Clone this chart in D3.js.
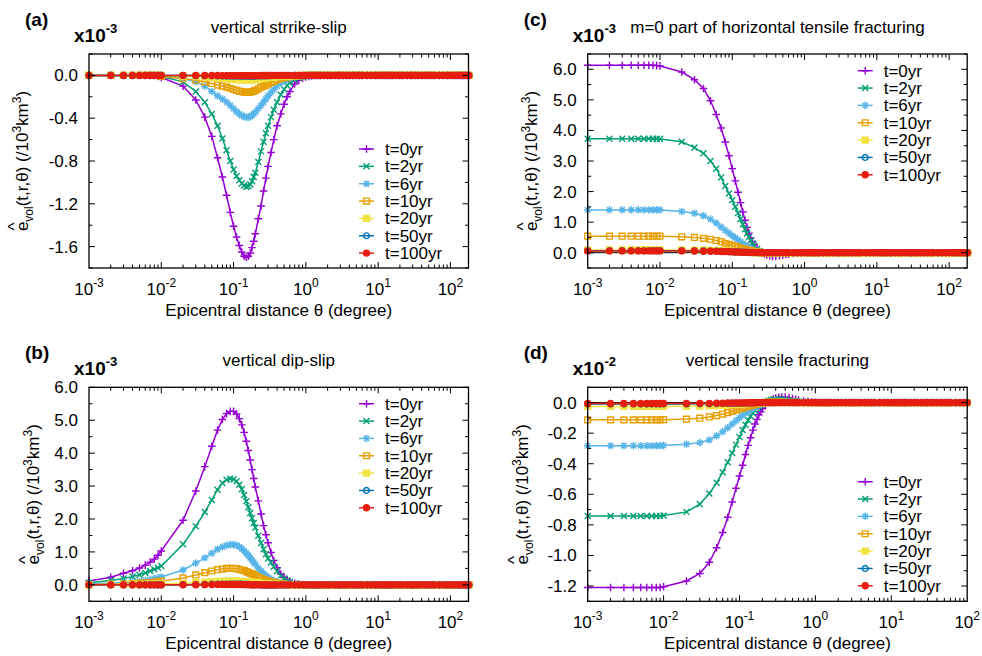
<!DOCTYPE html>
<html>
<head>
<meta charset="utf-8">
<script src="https://cdn.jsdelivr.net/npm/d3@7"></script>
<style>
  html, body { margin: 0; padding: 0; background: #fff; }
  svg { display: block; font-family: "Liberation Sans", Arial, sans-serif; }
</style>
</head>
<body>
<svg id="chart" width="982" height="656"></svg>
<script>
// epicentral distances (degree) at which every curve is sampled
const theta = [
  0.001, 0.002, 0.003, 0.004, 0.005, 0.006, 0.007, 0.008, 0.009,
  0.01, 0.02, 0.03, 0.04, 0.05, 0.06, 0.07, 0.08, 0.09,
  0.10, 0.11, 0.12, 0.13, 0.14, 0.15, 0.16, 0.17, 0.18, 0.19, 0.20,
  0.22, 0.24, 0.26, 0.28, 0.30, 0.33, 0.36, 0.40, 0.45, 0.50, 0.55, 0.60, 0.70, 0.80, 0.90,
  1.0, 1.1, 1.2, 1.3, 1.4, 1.5, 1.6, 1.8, 2.0, 2.2, 2.5, 2.8, 3.0, 3.3, 3.6, 4.0, 4.5, 5, 5.5, 6, 7, 8, 9,
  10, 11, 12, 13, 14, 15, 16, 18, 20, 22, 25, 28, 30, 33, 36, 40, 45, 50, 55, 60, 70, 80, 90, 100,
  110, 120, 130, 140, 150, 160, 170, 180
];

const seriesNames = ["t=0yr", "t=2yr", "t=6yr", "t=10yr", "t=20yr", "t=50yr", "t=100yr"];
const seriesColors = ["#9400d3", "#009e73", "#56b4e9", "#e69f00", "#f0e442", "#0072b2", "#e51e10"];
const seriesMarks = ["plus", "cross", "star", "square", "squareFill", "circle", "circleFill"];

// (a) vertical strike-slip, x10^-3
const ss0 = [
  0, 0, 0, 0, 0, 0, 0, 0, -0.01,
  -0.02, -0.10, -0.23, -0.39, -0.57, -0.77, -0.95, -1.12, -1.28,
  -1.41, -1.51, -1.59, -1.65, -1.69, -1.70, -1.69, -1.66, -1.61, -1.55, -1.48,
  -1.34, -1.22, -1.08, -0.96, -0.85, -0.72, -0.60, -0.47, -0.36, -0.27, -0.20, -0.15, -0.08, -0.045, -0.025,
  -0.015, -0.01, -0.005, 0, 0, 0, 0, 0, 0, 0, 0, 0, 0, 0, 0, 0, 0, 0, 0, 0, 0, 0, 0,
  0, 0, 0, 0, 0, 0, 0, 0, 0, 0, 0, 0, 0, 0, 0, 0, 0, 0, 0, 0, 0, 0, 0, 0, 0, 0, 0, 0, 0, 0, 0, 0
];
const ss2 = [
  0, 0, 0, 0, 0, 0, 0, 0, 0,
  -0.01, -0.06, -0.15, -0.25, -0.36, -0.47, -0.59, -0.70, -0.80,
  -0.88, -0.94, -0.98, -1.01, -1.03, -1.04, -1.035, -1.02, -0.99, -0.95, -0.91,
  -0.81, -0.71, -0.62, -0.54, -0.47, -0.39, -0.32, -0.25, -0.18, -0.13, -0.095, -0.07, -0.04, -0.022, -0.013,
  -0.008, -0.005, -0.003, 0, 0, 0, 0, 0, 0, 0, 0, 0, 0, 0, 0, 0, 0, 0, 0, 0, 0, 0, 0,
  0, 0, 0, 0, 0, 0, 0, 0, 0, 0, 0, 0, 0, 0, 0, 0, 0, 0, 0, 0, 0, 0, 0, 0, 0, 0, 0, 0, 0, 0, 0, 0
];
const ss6 = [
  0, 0, 0, 0, 0, 0, 0, 0, 0,
  0, -0.03, -0.06, -0.10, -0.15, -0.19, -0.22, -0.25, -0.28,
  -0.31, -0.34, -0.36, -0.375, -0.385, -0.39, -0.39, -0.385, -0.375, -0.36, -0.345,
  -0.31, -0.28, -0.25, -0.22, -0.19, -0.16, -0.13, -0.10, -0.07, -0.05, -0.035, -0.025, -0.012, -0.006, -0.003,
  -0.001, 0, 0, 0, 0, 0, 0, 0, 0, 0, 0, 0, 0, 0, 0, 0, 0, 0, 0, 0, 0, 0, 0,
  0, 0, 0, 0, 0, 0, 0, 0, 0, 0, 0, 0, 0, 0, 0, 0, 0, 0, 0, 0, 0, 0, 0, 0, 0, 0, 0, 0, 0, 0, 0, 0
];
const ss10 = [
  0, 0, 0, 0, 0, 0, 0, 0, 0,
  -0.01, -0.03, -0.045, -0.06, -0.075, -0.09, -0.10, -0.11, -0.12,
  -0.13, -0.14, -0.147, -0.152, -0.156, -0.158, -0.158, -0.156, -0.152, -0.147, -0.14,
  -0.125, -0.11, -0.10, -0.09, -0.08, -0.065, -0.055, -0.042, -0.03, -0.022, -0.016, -0.011, -0.006, -0.003, -0.002,
  -0.001, 0, 0, 0, 0, 0, 0, 0, 0, 0, 0, 0, 0, 0, 0, 0, 0, 0, 0, 0, 0, 0, 0,
  0, 0, 0, 0, 0, 0, 0, 0, 0, 0, 0, 0, 0, 0, 0, 0, 0, 0, 0, 0, 0, 0, 0, 0, 0, 0, 0, 0, 0, 0, 0, 0
];
const ss20 = [
  0, 0, 0, 0, 0, 0, 0, 0, 0,
  0, -0.005, -0.01, -0.015, -0.02, -0.024, -0.028, -0.031, -0.034,
  -0.036, -0.038, -0.04, -0.041, -0.042, -0.042, -0.042, -0.041, -0.04, -0.039, -0.038,
  -0.034, -0.03, -0.027, -0.024, -0.021, -0.018, -0.015, -0.011, -0.008, -0.006, -0.004, -0.003, -0.002, -0.001, 0,
  0, 0, 0, 0, 0, 0, 0, 0, 0, 0, 0, 0, 0, 0, 0, 0, 0, 0, 0, 0, 0, 0, 0,
  0, 0, 0, 0, 0, 0, 0, 0, 0, 0, 0, 0, 0, 0, 0, 0, 0, 0, 0, 0, 0, 0, 0, 0, 0, 0, 0, 0, 0, 0, 0, 0
];
const ss50 = [
  0, 0, 0, 0, 0, 0, 0, 0, 0,
  0, -0.001, -0.002, -0.003, -0.004, -0.005, -0.006, -0.007, -0.007,
  -0.008, -0.008, -0.008, -0.008, -0.008, -0.008, -0.008, -0.008, -0.007, -0.007, -0.007,
  -0.006, -0.005, -0.005, -0.004, -0.004, -0.003, -0.003, -0.002, -0.002, -0.001, -0.001, -0.001, 0, 0, 0,
  0, 0, 0, 0, 0, 0, 0, 0, 0, 0, 0, 0, 0, 0, 0, 0, 0, 0, 0, 0, 0, 0, 0,
  0, 0, 0, 0, 0, 0, 0, 0, 0, 0, 0, 0, 0, 0, 0, 0, 0, 0, 0, 0, 0, 0, 0, 0, 0, 0, 0, 0, 0, 0, 0, 0
];
const ss100 = [
  0, 0, 0, 0, 0, 0, 0, 0, 0,
  0, 0, 0, -0.001, -0.001, -0.001, -0.002, -0.002, -0.002,
  -0.002, -0.002, -0.002, -0.002, -0.002, -0.002, -0.002, -0.002, -0.002, -0.002, -0.002,
  -0.002, -0.001, -0.001, -0.001, -0.001, -0.001, 0, 0, 0, 0, 0, 0, 0, 0, 0,
  0, 0, 0, 0, 0, 0, 0, 0, 0, 0, 0, 0, 0, 0, 0, 0, 0, 0, 0, 0, 0, 0, 0,
  0, 0, 0, 0, 0, 0, 0, 0, 0, 0, 0, 0, 0, 0, 0, 0, 0, 0, 0, 0, 0, 0, 0, 0, 0, 0, 0, 0, 0, 0, 0, 0
];

// (b) vertical dip-slip, x10^-3
const ds0 = [
  0.12, 0.23, 0.35, 0.43, 0.51, 0.60, 0.69, 0.78, 0.90,
  1.03, 1.96, 2.85, 3.59, 4.21, 4.70, 5.02, 5.20, 5.27,
  5.27, 5.19, 5.05, 4.86, 4.63, 4.36, 4.08, 3.79, 3.50, 3.23, 2.97,
  2.55, 2.15, 1.80, 1.52, 1.28, 0.98, 0.74, 0.52, 0.33, 0.22, 0.15, 0.10, 0.045, 0.02, 0.01,
  0.005, 0.003, 0.001, 0, 0, 0, 0, 0, 0, 0, 0, 0, 0, 0, 0, 0, 0, 0, 0, 0, 0, 0, 0,
  0, 0, 0, 0, 0, 0, 0, 0, 0, 0, 0, 0, 0, 0, 0, 0, 0, 0, 0, 0, 0, 0, 0, 0, 0, 0, 0, 0, 0, 0, 0, 0
];
const ds2 = [
  0.06, 0.13, 0.19, 0.25, 0.31, 0.36, 0.42, 0.47, 0.52,
  0.57, 1.23, 1.78, 2.21, 2.58, 2.89, 3.09, 3.19, 3.22,
  3.21, 3.15, 3.04, 2.90, 2.73, 2.54, 2.36, 2.18, 2.02, 1.88, 1.74,
  1.49, 1.27, 1.08, 0.93, 0.80, 0.68, 0.55, 0.41, 0.28, 0.19, 0.13, 0.09, 0.04, 0.02, 0.01,
  0.005, 0.003, 0.001, 0, 0, 0, 0, 0, 0, 0, 0, 0, 0, 0, 0, 0, 0, 0, 0, 0, 0, 0, 0,
  0, 0, 0, 0, 0, 0, 0, 0, 0, 0, 0, 0, 0, 0, 0, 0, 0, 0, 0, 0, 0, 0, 0, 0, 0, 0, 0, 0, 0, 0, 0, 0
];
const ds6 = [
  0.03, 0.05, 0.07, 0.09, 0.11, 0.13, 0.16, 0.19, 0.21,
  0.24, 0.45, 0.66, 0.82, 0.96, 1.08, 1.15, 1.20, 1.22,
  1.22, 1.20, 1.16, 1.10, 1.03, 0.96, 0.89, 0.82, 0.75, 0.68, 0.62,
  0.51, 0.42, 0.34, 0.28, 0.23, 0.17, 0.12, 0.08, 0.05, 0.03, 0.02, 0.013, 0.006, 0.003, 0.001,
  0, 0, 0, 0, 0, 0, 0, 0, 0, 0, 0, 0, 0, 0, 0, 0, 0, 0, 0, 0, 0, 0, 0,
  0, 0, 0, 0, 0, 0, 0, 0, 0, 0, 0, 0, 0, 0, 0, 0, 0, 0, 0, 0, 0, 0, 0, 0, 0, 0, 0, 0, 0, 0, 0, 0
];
const ds10 = [
  0.01, 0.02, 0.03, 0.04, 0.05, 0.06, 0.07, 0.08, 0.09,
  0.11, 0.21, 0.30, 0.37, 0.42, 0.46, 0.48, 0.50, 0.50,
  0.50, 0.49, 0.47, 0.45, 0.43, 0.40, 0.38, 0.35, 0.33, 0.30, 0.28,
  0.24, 0.20, 0.17, 0.14, 0.12, 0.09, 0.07, 0.05, 0.03, 0.02, 0.013, 0.008, 0.004, 0.002, 0.001,
  0, 0, 0, 0, 0, 0, 0, 0, 0, 0, 0, 0, 0, 0, 0, 0, 0, 0, 0, 0, 0, 0, 0,
  0, 0, 0, 0, 0, 0, 0, 0, 0, 0, 0, 0, 0, 0, 0, 0, 0, 0, 0, 0, 0, 0, 0, 0, 0, 0, 0, 0, 0, 0, 0, 0
];
const ds20 = [
  0, 0.005, 0.008, 0.01, 0.012, 0.014, 0.016, 0.018, 0.02,
  0.022, 0.045, 0.065, 0.08, 0.09, 0.10, 0.105, 0.11, 0.11,
  0.11, 0.108, 0.104, 0.10, 0.095, 0.09, 0.085, 0.08, 0.075, 0.07, 0.065,
  0.055, 0.045, 0.038, 0.032, 0.026, 0.02, 0.015, 0.01, 0.007, 0.005, 0.003, 0.002, 0.001, 0, 0,
  0, 0, 0, 0, 0, 0, 0, 0, 0, 0, 0, 0, 0, 0, 0, 0, 0, 0, 0, 0, 0, 0, 0,
  0, 0, 0, 0, 0, 0, 0, 0, 0, 0, 0, 0, 0, 0, 0, 0, 0, 0, 0, 0, 0, 0, 0, 0, 0, 0, 0, 0, 0, 0, 0, 0
];
const ds50 = [
  0, 0, 0, 0, 0, 0, 0, 0, 0,
  0, 0.005, 0.01, 0.015, 0.02, 0.022, 0.024, 0.025, 0.025,
  0.025, 0.024, 0.022, 0.02, 0.018, 0.015, 0.012, 0.009, 0.006, 0.004, 0.002,
  -0.002, -0.005, -0.007, -0.008, -0.009, -0.009, -0.009, -0.008, -0.007, -0.006, -0.005, -0.004, -0.002, -0.001, 0,
  0, 0, 0, 0, 0, 0, 0, 0, 0, 0, 0, 0, 0, 0, 0, 0, 0, 0, 0, 0, 0, 0, 0,
  0, 0, 0, 0, 0, 0, 0, 0, 0, 0, 0, 0, 0, 0, 0, 0, 0, 0, 0, 0, 0, 0, 0, 0, 0, 0, 0, 0, 0, 0, 0, 0
];
const ds100 = [
  0, 0, 0, 0, 0, 0, 0, 0, 0,
  0, 0.002, 0.004, 0.006, 0.007, 0.008, 0.009, 0.01, 0.01,
  0.01, 0.01, 0.009, 0.008, 0.007, 0.006, 0.005, 0.004, 0.003, 0.002, 0.001,
  0, -0.001, -0.002, -0.002, -0.002, -0.002, -0.002, -0.002, -0.001, -0.001, -0.001, 0, 0, 0, 0,
  0, 0, 0, 0, 0, 0, 0, 0, 0, 0, 0, 0, 0, 0, 0, 0, 0, 0, 0, 0, 0, 0, 0,
  0, 0, 0, 0, 0, 0, 0, 0, 0, 0, 0, 0, 0, 0, 0, 0, 0, 0, 0, 0, 0, 0, 0, 0, 0, 0, 0, 0, 0, 0, 0, 0
];

// (c) m=0 part of horizontal tensile fracturing, x10^-3
const ht0 = [
  6.13, 6.13, 6.13, 6.13, 6.13, 6.13, 6.13, 6.13, 6.12,
  6.11, 5.91, 5.66, 5.37, 4.97, 4.52, 4.08, 3.62, 3.17,
  2.75, 2.35, 1.98, 1.64, 1.33, 1.06, 0.83, 0.64, 0.48, 0.36, 0.26,
  0.12, 0.04, -0.01, -0.04, -0.07, -0.10, -0.12, -0.12, -0.10, -0.08, -0.06, -0.045, -0.025, -0.013, -0.007,
  -0.003, -0.002, -0.001, 0, 0, 0, 0, 0, 0, 0, 0, 0, 0, 0, 0, 0, 0, 0, 0, 0, 0, 0, 0,
  0, 0, 0, 0, 0, 0, 0, 0, 0, 0, 0, 0, 0, 0, 0, 0, 0, 0, 0, 0, 0, 0, 0, 0, 0, 0, 0, 0, 0, 0, 0, 0
];
const ht2 = [
  3.73, 3.73, 3.73, 3.73, 3.73, 3.73, 3.73, 3.73, 3.73,
  3.72, 3.63, 3.44, 3.25, 3.00, 2.75, 2.46, 2.18, 1.94,
  1.72, 1.50, 1.30, 1.10, 0.93, 0.77, 0.63, 0.51, 0.40, 0.31, 0.23,
  0.12, 0.05, 0.01, -0.01, -0.02, -0.03, -0.03, -0.03, -0.02, -0.02, -0.01, -0.01, -0.005, 0, 0,
  0, 0, 0, 0, 0, 0, 0, 0, 0, 0, 0, 0, 0, 0, 0, 0, 0, 0, 0, 0, 0, 0, 0,
  0, 0, 0, 0, 0, 0, 0, 0, 0, 0, 0, 0, 0, 0, 0, 0, 0, 0, 0, 0, 0, 0, 0, 0, 0, 0, 0, 0, 0, 0, 0, 0
];
const ht6 = [
  1.40, 1.40, 1.40, 1.40, 1.40, 1.40, 1.40, 1.40, 1.40,
  1.40, 1.35, 1.29, 1.21, 1.10, 0.97, 0.84, 0.73, 0.64,
  0.56, 0.49, 0.42, 0.36, 0.30, 0.25, 0.20, 0.16, 0.13, 0.10, 0.08,
  0.04, 0.02, 0, -0.01, -0.01, -0.01, -0.01, -0.01, -0.01, -0.005, 0, 0, 0, 0, 0,
  0, 0, 0, 0, 0, 0, 0, 0, 0, 0, 0, 0, 0, 0, 0, 0, 0, 0, 0, 0, 0, 0, 0,
  0, 0, 0, 0, 0, 0, 0, 0, 0, 0, 0, 0, 0, 0, 0, 0, 0, 0, 0, 0, 0, 0, 0, 0, 0, 0, 0, 0, 0, 0, 0, 0
];
const ht10 = [
  0.54, 0.54, 0.54, 0.54, 0.54, 0.54, 0.54, 0.54, 0.54,
  0.54, 0.52, 0.50, 0.47, 0.44, 0.40, 0.36, 0.31, 0.27,
  0.24, 0.21, 0.18, 0.15, 0.13, 0.11, 0.09, 0.075, 0.06, 0.05, 0.04,
  0.025, 0.01, 0, 0, 0, 0, 0, 0, 0, 0, 0, 0, 0, 0, 0,
  0, 0, 0, 0, 0, 0, 0, 0, 0, 0, 0, 0, 0, 0, 0, 0, 0, 0, 0, 0, 0, 0, 0,
  0, 0, 0, 0, 0, 0, 0, 0, 0, 0, 0, 0, 0, 0, 0, 0, 0, 0, 0, 0, 0, 0, 0, 0, 0, 0, 0, 0, 0, 0, 0, 0
];
const ht20 = [
  0.09, 0.09, 0.09, 0.09, 0.09, 0.09, 0.09, 0.09, 0.09,
  0.09, 0.09, 0.085, 0.08, 0.075, 0.07, 0.06, 0.055, 0.05,
  0.045, 0.04, 0.035, 0.03, 0.025, 0.02, 0.018, 0.015, 0.012, 0.01, 0.008,
  0.005, 0.002, 0, 0, 0, 0, 0, 0, 0, 0, 0, 0, 0, 0, 0,
  0, 0, 0, 0, 0, 0, 0, 0, 0, 0, 0, 0, 0, 0, 0, 0, 0, 0, 0, 0, 0, 0, 0,
  0, 0, 0, 0, 0, 0, 0, 0, 0, 0, 0, 0, 0, 0, 0, 0, 0, 0, 0, 0, 0, 0, 0, 0, 0, 0, 0, 0, 0, 0, 0, 0
];
const ht50 = [
  0.065, 0.065, 0.065, 0.065, 0.065, 0.065, 0.065, 0.065, 0.065,
  0.065, 0.065, 0.06, 0.06, 0.055, 0.05, 0.045, 0.04, 0.035,
  0.03, 0.027, 0.024, 0.021, 0.018, 0.015, 0.013, 0.011, 0.009, 0.007, 0.005,
  0.003, 0.001, 0, 0, 0, 0, 0, 0, 0, 0, 0, 0, 0, 0, 0,
  0, 0, 0, 0, 0, 0, 0, 0, 0, 0, 0, 0, 0, 0, 0, 0, 0, 0, 0, 0, 0, 0, 0,
  0, 0, 0, 0, 0, 0, 0, 0, 0, 0, 0, 0, 0, 0, 0, 0, 0, 0, 0, 0, 0, 0, 0, 0, 0, 0, 0, 0, 0, 0, 0, 0
];
const ht100 = [
  0.06, 0.06, 0.06, 0.06, 0.06, 0.06, 0.06, 0.06, 0.06,
  0.06, 0.06, 0.055, 0.05, 0.05, 0.045, 0.04, 0.035, 0.03,
  0.027, 0.024, 0.021, 0.018, 0.015, 0.013, 0.011, 0.009, 0.007, 0.006, 0.005,
  0.003, 0.001, 0, 0, 0, 0, 0, 0, 0, 0, 0, 0, 0, 0, 0,
  0, 0, 0, 0, 0, 0, 0, 0, 0, 0, 0, 0, 0, 0, 0, 0, 0, 0, 0, 0, 0, 0, 0,
  0, 0, 0, 0, 0, 0, 0, 0, 0, 0, 0, 0, 0, 0, 0, 0, 0, 0, 0, 0, 0, 0, 0, 0, 0, 0, 0, 0, 0, 0, 0, 0
];

// (d) vertical tensile fracturing, x10^-2
const vt0 = [
  -1.21, -1.21, -1.21, -1.21, -1.21, -1.21, -1.21, -1.21, -1.21,
  -1.205, -1.167, -1.118, -1.045, -0.95, -0.85, -0.75, -0.65, -0.56,
  -0.48, -0.41, -0.34, -0.28, -0.23, -0.18, -0.14, -0.11, -0.08, -0.06, -0.04,
  -0.015, 0.003, 0.015, 0.024, 0.03, 0.035, 0.037, 0.036, 0.032, 0.027, 0.022, 0.017, 0.01, 0.006, 0.003,
  0.002, 0.001, 0.001, 0, 0, 0, 0, 0, 0, 0, 0, 0, 0, 0, 0, 0, 0, 0, 0, 0, 0, 0, 0,
  0, 0, 0, 0, 0, 0, 0, 0, 0, 0, 0, 0, 0, 0, 0, 0, 0, 0, 0, 0, 0, 0, 0, 0, 0, 0, 0, 0, 0, 0, 0, 0
];
const vt2 = [
  -0.742, -0.742, -0.742, -0.742, -0.742, -0.742, -0.742, -0.742, -0.742,
  -0.738, -0.715, -0.665, -0.595, -0.525, -0.455, -0.39, -0.33, -0.275,
  -0.225, -0.18, -0.145, -0.115, -0.09, -0.07, -0.052, -0.038, -0.026, -0.016, -0.008,
  0.004, 0.012, 0.017, 0.02, 0.021, 0.021, 0.02, 0.018, 0.015, 0.012, 0.009, 0.007, 0.004, 0.002, 0.001,
  0, 0, 0, 0, 0, 0, 0, 0, 0, 0, 0, 0, 0, 0, 0, 0, 0, 0, 0, 0, 0, 0, 0,
  0, 0, 0, 0, 0, 0, 0, 0, 0, 0, 0, 0, 0, 0, 0, 0, 0, 0, 0, 0, 0, 0, 0, 0, 0, 0, 0, 0, 0, 0, 0, 0
];
const vt6 = [
  -0.282, -0.282, -0.282, -0.282, -0.282, -0.282, -0.282, -0.282, -0.282,
  -0.28, -0.273, -0.262, -0.245, -0.217, -0.19, -0.165, -0.14, -0.118,
  -0.10, -0.083, -0.068, -0.055, -0.044, -0.035, -0.027, -0.02, -0.014, -0.009, -0.005,
  0.001, 0.005, 0.007, 0.008, 0.008, 0.008, 0.007, 0.006, 0.005, 0.004, 0.003, 0.002, 0.001, 0.001, 0,
  0, 0, 0, 0, 0, 0, 0, 0, 0, 0, 0, 0, 0, 0, 0, 0, 0, 0, 0, 0, 0, 0, 0,
  0, 0, 0, 0, 0, 0, 0, 0, 0, 0, 0, 0, 0, 0, 0, 0, 0, 0, 0, 0, 0, 0, 0, 0, 0, 0, 0, 0, 0, 0, 0, 0
];
const vt10 = [
  -0.113, -0.113, -0.113, -0.113, -0.113, -0.113, -0.113, -0.113, -0.113,
  -0.112, -0.108, -0.102, -0.094, -0.085, -0.075, -0.066, -0.057, -0.049,
  -0.042, -0.036, -0.03, -0.025, -0.02, -0.016, -0.012, -0.009, -0.006, -0.004, -0.002,
  0.001, 0.002, 0.003, 0.003, 0.003, 0.003, 0.003, 0.002, 0.002, 0.001, 0.001, 0, 0, 0, 0,
  0, 0, 0, 0, 0, 0, 0, 0, 0, 0, 0, 0, 0, 0, 0, 0, 0, 0, 0, 0, 0, 0, 0,
  0, 0, 0, 0, 0, 0, 0, 0, 0, 0, 0, 0, 0, 0, 0, 0, 0, 0, 0, 0, 0, 0, 0, 0, 0, 0, 0, 0, 0, 0, 0, 0
];
const vt20 = [
  -0.025, -0.025, -0.025, -0.025, -0.025, -0.025, -0.025, -0.025, -0.025,
  -0.025, -0.024, -0.023, -0.021, -0.019, -0.017, -0.015, -0.013, -0.011,
  -0.01, -0.008, -0.007, -0.006, -0.005, -0.004, -0.003, -0.002, -0.002, -0.001, -0.001,
  0, 0, 0, 0, 0, 0, 0, 0, 0, 0, 0, 0, 0, 0, 0,
  0, 0, 0, 0, 0, 0, 0, 0, 0, 0, 0, 0, 0, 0, 0, 0, 0, 0, 0, 0, 0, 0, 0,
  0, 0, 0, 0, 0, 0, 0, 0, 0, 0, 0, 0, 0, 0, 0, 0, 0, 0, 0, 0, 0, 0, 0, 0, 0, 0, 0, 0, 0, 0, 0, 0
];
const vt50 = [
  -0.009, -0.009, -0.009, -0.009, -0.009, -0.009, -0.009, -0.009, -0.009,
  -0.009, -0.009, -0.008, -0.008, -0.007, -0.006, -0.005, -0.005, -0.004,
  -0.004, -0.003, -0.003, -0.002, -0.002, -0.002, -0.001, -0.001, -0.001, 0, 0,
  0, 0, 0, 0, 0, 0, 0, 0, 0, 0, 0, 0, 0, 0, 0,
  0, 0, 0, 0, 0, 0, 0, 0, 0, 0, 0, 0, 0, 0, 0, 0, 0, 0, 0, 0, 0, 0, 0,
  0, 0, 0, 0, 0, 0, 0, 0, 0, 0, 0, 0, 0, 0, 0, 0, 0, 0, 0, 0, 0, 0, 0, 0, 0, 0, 0, 0, 0, 0, 0, 0
];
const vt100 = [
  -0.006, -0.006, -0.006, -0.006, -0.006, -0.006, -0.006, -0.006, -0.006,
  -0.006, -0.006, -0.005, -0.005, -0.004, -0.004, -0.003, -0.003, -0.003,
  -0.002, -0.002, -0.002, -0.001, -0.001, -0.001, -0.001, 0, 0, 0, 0,
  0, 0, 0, 0, 0, 0, 0, 0, 0, 0, 0, 0, 0, 0, 0,
  0, 0, 0, 0, 0, 0, 0, 0, 0, 0, 0, 0, 0, 0, 0, 0, 0, 0, 0, 0, 0, 0, 0,
  0, 0, 0, 0, 0, 0, 0, 0, 0, 0, 0, 0, 0, 0, 0, 0, 0, 0, 0, 0, 0, 0, 0, 0, 0, 0, 0, 0, 0, 0, 0, 0
];

// y tick values per panel
const yTicksSS = [-1.6, -1.2, -0.8, -0.4, 0.0];
const yMinorSS = [-1.8, -1.4, -1.0, -0.6, -0.2, 0.2];
const yTicksDS = [0, 1, 2, 3, 4, 5, 6];
const yMinorDS = [-0.5, 0.5, 1.5, 2.5, 3.5, 4.5, 5.5];
const yTicksHT = [0, 1, 2, 3, 4, 5, 6];
const yMinorHT = [-0.5, 0.5, 1.5, 2.5, 3.5, 4.5, 5.5, 6.5];
const yTicksVT = [-1.2, -1.0, -0.8, -0.6, -0.4, -0.2, 0.0];
const yMinorVT = [-1.3, -1.1, -0.9, -0.7, -0.5, -0.3, -0.1, 0.1];

const panels = [
  { tag: "(a)", title: "vertical strrike-slip", power: "-3", left: 89, top: 54,
    xMax: 177.8, yDomain: [-1.8, 0.2], yTicks: yTicksSS, yMinor: yMinorSS,
    labelX: 28, legendY: 95, data: [ss0, ss2, ss6, ss10, ss20, ss50, ss100] },
  { tag: "(b)", title: "vertical dip-slip", power: "-3", left: 89, top: 387.3,
    xMax: 177.8, yDomain: [-0.5, 6.0], yTicks: yTicksDS, yMinor: yMinorDS,
    labelX: 39, legendY: 16.4, data: [ds0, ds2, ds6, ds10, ds20, ds50, ds100] },
  { tag: "(c)", title: "m=0 part of horizontal tensile fracturing", power: "-3", left: 587.7, top: 54,
    xMax: 177.8, yDomain: [-0.5, 6.5], yTicks: yTicksHT, yMinor: yMinorHT,
    labelX: 536.5, legendY: 16.7, data: [ht0, ht2, ht6, ht10, ht20, ht50, ht100] },
  { tag: "(d)", title: "vertical tensile fracturing", power: "-2", left: 587.7, top: 387.3,
    xMax: 100, yDomain: [-1.3, 0.1], yTicks: yTicksVT, yMinor: yMinorVT,
    labelX: 528, legendY: 94.4, data: [vt0, vt2, vt6, vt10, vt20, vt50, vt100] }
];

const W = 379.5, H = 214;
const FONT = 17;

const shapes = {
  plus: { d: "M-3.8,0H3.8M0,-3.8V3.8", filled: false },
  cross: { d: "M-3,-3L3,3M-3,3L3,-3", filled: false },
  star: { d: "M-3.8,0H3.8M0,-3.8V3.8M-2.7,-2.7L2.7,2.7M-2.7,2.7L2.7,-2.7", filled: false },
  square: { d: "M-2.9,-2.9H2.9V2.9H-2.9Z", filled: false },
  squareFill: { d: "M-3,-3H3V3H-3Z", filled: true },
  circle: { d: "M2.9,0A2.9,2.9 0 1,1 -2.9,0A2.9,2.9 0 1,1 2.9,0Z", filled: false },
  circleFill: { d: "M3,0A3,3 0 1,1 -3,0A3,3 0 1,1 3,0Z", filled: true }
};

const svg = d3.select("#chart");

function drawMarks(g, pts, i) {
  const s = shapes[seriesMarks[i]];
  g.append("g").selectAll("path")
    .data(pts)
    .join("path")
    .attr("transform", d => `translate(${d[0]},${d[1]})`)
    .attr("d", s.d)
    .attr("fill", s.filled ? seriesColors[i] : "none")
    .attr("stroke", seriesColors[i])
    .attr("stroke-width", 1.4);
}

function drawPanel(p) {
  p.data.forEach((v, i) => {
    if (v.length !== theta.length) throw new Error(p.tag + " series " + i + " has " + v.length + " of " + theta.length);
  });

  const x = d3.scaleLog().domain([1e-3, p.xMax]).range([p.left, p.left + W]);
  const y = d3.scaleLinear().domain(p.yDomain).range([p.top + H, p.top]);
  const right = p.left + W, bottom = p.top + H;
  const g = svg.append("g");

  // zero line
  g.append("line")
    .attr("x1", p.left).attr("x2", right)
    .attr("y1", y(0)).attr("y2", y(0))
    .attr("stroke", "#000").attr("stroke-width", 1);

  // curves
  const line = d3.line().x(d => d[0]).y(d => d[1]);
  p.data.forEach((vals, i) => {
    const pts = theta
      .map((t, k) => [t, vals[k]])
      .filter(d => d[0] <= p.xMax * 1.02)
      .map(d => [x(d[0]), y(d[1])]);
    g.append("path")
      .datum(pts)
      .attr("d", line)
      .attr("fill", "none")
      .attr("stroke", seriesColors[i])
      .attr("stroke-width", 1.5);
    drawMarks(g, pts, i);
  });

  // ticks, mirrored on all four sides
  const ticks = g.append("g").attr("stroke", "#000").attr("stroke-width", 1);
  x.ticks().forEach(v => {
    const major = Math.abs(Math.log10(v) - Math.round(Math.log10(v))) < 1e-9;
    const len = major ? 6 : 3.5;
    const px = x(v);
    if (px < p.left + 0.5 || px > right - 0.5) return;
    ticks.append("line").attr("x1", px).attr("x2", px).attr("y1", bottom).attr("y2", bottom - len);
    ticks.append("line").attr("x1", px).attr("x2", px).attr("y1", p.top).attr("y2", p.top + len);
  });
  p.yTicks.concat(p.yMinor).forEach((v, k) => {
    const len = k < p.yTicks.length ? 6 : 3.5;
    const py = y(v);
    ticks.append("line").attr("x1", p.left).attr("x2", p.left + len).attr("y1", py).attr("y2", py);
    ticks.append("line").attr("x1", right).attr("x2", right - len).attr("y1", py).attr("y2", py);
  });

  // border
  g.append("rect")
    .attr("x", p.left).attr("y", p.top).attr("width", W).attr("height", H)
    .attr("fill", "none").attr("stroke", "#000").attr("stroke-width", 1.3);

  // y tick labels
  g.append("g").selectAll("text")
    .data(p.yTicks)
    .join("text")
    .attr("x", p.left - 11)
    .attr("y", d => y(d))
    .attr("dy", "0.35em")
    .attr("text-anchor", "end")
    .attr("font-size", FONT)
    .text(d => d.toFixed(1));

  // x tick labels 10^n
  x.ticks()
    .filter(v => Math.abs(Math.log10(v) - Math.round(Math.log10(v))) < 1e-9)
    .forEach(v => {
      const t = g.append("text")
        .attr("x", x(v)).attr("y", bottom + 27)
        .attr("text-anchor", "middle")
        .attr("font-size", FONT);
      t.append("tspan").text("10");
      t.append("tspan").attr("font-size", 12).attr("dy", -8).text(Math.round(Math.log10(v)));
    });

  // x axis title
  g.append("text")
    .attr("x", p.left + W / 2).attr("y", bottom + 48)
    .attr("text-anchor", "middle")
    .attr("font-size", FONT)
    .text("Epicentral distance θ (degree)");

  // y axis title, rotated, with a hat over the e
  const lab = g.append("g").attr("transform", `translate(${p.labelX},${p.top + H / 2}) rotate(-90)`);
  const yt = lab.append("text").attr("font-size", FONT);
  yt.append("tspan").text("e");
  yt.append("tspan").attr("font-size", 12).attr("dy", 5).text("vol");
  yt.append("tspan").attr("dy", -5).text("(t,r,θ) (/10");
  yt.append("tspan").attr("font-size", 12).attr("dy", -7).text("3");
  yt.append("tspan").attr("dy", 7).text("km");
  yt.append("tspan").attr("font-size", 12).attr("dy", -7).text("3");
  yt.append("tspan").attr("dy", 7).text(")");
  const len = yt.node().getComputedTextLength();
  yt.attr("x", -len / 2);
  lab.append("text").attr("font-size", 17).attr("x", -len / 2 + 0.5).attr("y", -8).text("^");

  // panel tag, scale factor and title
  g.append("text")
    .attr("x", p.left - 64).attr("y", p.top - 28)
    .attr("font-size", 19).attr("font-weight", "bold")
    .text(p.tag);
  const sc = g.append("text")
    .attr("x", p.left - 15).attr("y", p.top - 12.5)
    .attr("font-size", 19).attr("font-weight", "bold");
  sc.append("tspan").text("x10");
  sc.append("tspan").attr("font-size", 13).attr("dy", -9).text(p.power);
  g.append("text")
    .attr("x", p.left + W / 2).attr("y", p.top - 21)
    .attr("text-anchor", "middle")
    .attr("font-size", FONT)
    .text(p.title);

  // legend
  const lg = g.append("g");
  seriesNames.forEach((name, i) => {
    const ry = p.top + p.legendY + i * 17.35;
    lg.append("line")
      .attr("x1", p.left + 270).attr("x2", p.left + 285)
      .attr("y1", ry).attr("y2", ry)
      .attr("stroke", seriesColors[i]).attr("stroke-width", 1.5);
    drawMarks(lg, [[p.left + 277.5, ry]], i);
    lg.append("text")
      .attr("x", p.left + 296).attr("y", ry)
      .attr("dy", "0.35em")
      .attr("font-size", FONT)
      .text(name);
  });
}

panels.forEach(drawPanel);
</script>
</body>
</html>
